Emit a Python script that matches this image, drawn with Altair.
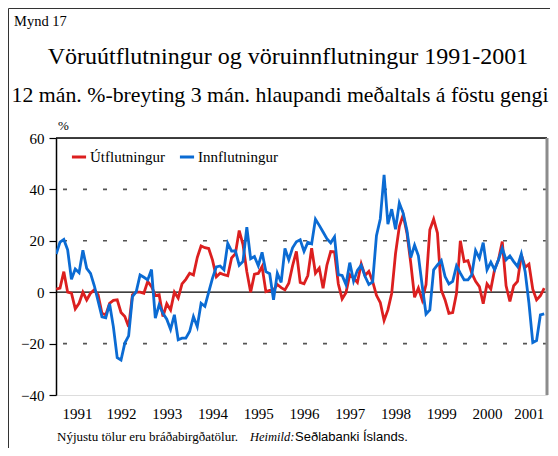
import altair as alt
import pandas as pd

# month index (1 = Feb 1991 ... 129 = Oct 2001)
months = list(range(1, 130))

utflutningur = [
    1.2, 1.6, 8.0, 0.0, -0.4, -6.5, -4.3, 0.0, -3.0, -0.4, 0.9, -1.0,
    -8.2, -8.8, -4.3, -3.2, -3.0, -7.9, -9.5, -13.4, -1.0, 0.0, 0.0, -0.4,
    4.2, 2.2, -1.3, -1.0, -9.5, -4.5, -6.9, 0.0, -2.3, 3.2, 5.0, 7.4,
    6.7, 13.5, 18.0, 17.3, 17.0, 12.5, 6.0, 7.4, 6.8, 6.4, 13.3, 15.0,
    24.0, 18.5, 8.0, 0.0, 7.0, 7.3, 10.0, 0.2, 0.7, 0.8, 3.0, 1.8,
    0.9, 3.5, 10.3, 15.9, 3.8, 3.3, 6.5, 17.1, 7.4, 9.4, 1.5, 10.5,
    15.8, 15.7, 3.2, -2.6, -0.2, 6.8, 5.5, 3.8, 11.0, 6.5, 8.1, 4.2,
    -1.2, -4.0, -11.0, -6.9, -0.4, 15.0, 25.5, 30.1, 23.0, 11.3, -2.0, 1.6,
    -3.0, 3.0, 24.3, 28.4, 23.0, 0.9, -3.0, -8.2, -7.9, -0.4, 20.0, 11.9,
    12.3, 7.4, 4.2, 2.2, -4.5, 3.2, 1.2, 8.9, 12.6, 19.7, 2.5, -3.6,
    2.5, 4.2, 14.5, 9.7, 10.9, 1.2, -3.0, -1.4, 1.6,
]

innflutningur = [
    14.8, 19.5, 20.5, 16.5, 5.0, 9.0, 7.6, 16.3, 9.3, 7.3, 2.5, -3.5,
    -9.6, -10.0, -4.5, -13.5, -25.5, -26.4, -19.8, -17.0, -1.7, 0.2, 6.7, 5.8,
    4.8, 8.8, -10.1, -4.9, -8.2, -10.5, -14.5, -8.8, -18.5, -17.9, -17.9, -15.3,
    -9.5, -13.4, -4.3, -5.5, 0.0, 5.5, 9.8, 10.2, 8.7, 19.0, 16.0, 16.1,
    10.5, 12.0, 25.3, 13.0, 13.9, 10.3, 15.5, 8.0, 7.2, -3.0, 7.4, 3.8,
    17.0, 12.6, 17.3, 19.6, 20.4, 15.9, 19.4, 18.8, 28.4, 26.0, 23.4, 20.8,
    19.2, 21.5, 6.8, 6.5, 3.0, 11.5, 4.3, 8.5, 10.5, 6.2, 3.0, 4.0,
    22.0, 28.5, 45.7, 26.5, 32.3, 24.5, 34.7, 30.8, 24.0, 13.5, 18.3, 14.2,
    2.5, -8.5, -6.9, 8.7, 10.6, 12.3, 6.1, 3.2, 4.2, 10.2, 7.4, 4.8,
    4.8, 6.7, 16.2, 13.2, 19.3, 8.7, 11.7, 8.7, 12.6, 17.1, 12.6, 14.1,
    11.9, 10.0, 14.9, 8.0, -4.3, -19.6, -18.8, -8.8, -8.4,
]

series_names = ["Útflutningur", "Innflutningur"]
series_colors = ["#dc1f1f", "#0b6bd3"]

year_label_pos = [1991.54, 1992.5, 1993.5, 1994.5, 1995.5, 1996.5,
                  1997.5, 1998.5, 1999.5, 2000.5, 2001.41]
y_ticks = [-40, -30, -20, -10, 0, 10, 20, 30, 40, 50, 60]
dashed_grid = [-20, 20, 40]

X_MIN, X_MAX = 1991.079, 2001.811
W, H = 491, 257

t = [1991 + m / 12 for m in months]
df = pd.concat([
    pd.DataFrame({"t": t, "v": utflutningur, "s": series_names[0]}),
    pd.DataFrame({"t": t, "v": innflutningur, "s": series_names[1]}),
])

xscale = alt.Scale(domain=[X_MIN, X_MAX], nice=False, zero=False)
yscale = alt.Scale(domain=[-40, 60], nice=False)

SERIF = "Liberation Serif"
SANS = "Liberation Sans"

lines = alt.Chart(df).mark_line(strokeWidth=2.8, clip=True).encode(
    x=alt.X("t:Q", scale=xscale, title=None,
            axis=alt.Axis(values=year_label_pos, labelExpr="toString(floor(datum.value))",
                          ticks=False, domain=False, grid=False,
                          labelFont=SERIF, labelFontSize=15, labelColor="black",
                          labelPadding=11, labelFlush=False, labelOverlap=False)),
    y=alt.Y("v:Q", scale=yscale, title=None,
            axis=alt.Axis(values=y_ticks,
                          labelExpr="datum.value % 20 == 0 ? datum.label : ''",
                          tickSize=7, tickColor="black", tickWidth=1.2,
                          domainColor="black", domainWidth=1.5,
                          grid=False, labelFont=SERIF, labelFontSize=15,
                          labelColor="black", labelPadding=5)),
    color=alt.Color("s:N", sort=series_names,
                    scale=alt.Scale(domain=series_names, range=series_colors),
                    legend=alt.Legend(title=None, orient="none", legendX=14, legendY=10,
                                      direction="horizontal", symbolType="stroke",
                                      symbolStrokeWidth=3, symbolSize=200,
                                      labelFont=SERIF, labelFontSize=15,
                                      labelColor="black", labelOffset=2,
                                      columnPadding=8, padding=0)),
)

grid = alt.Chart(pd.DataFrame({"g": dashed_grid})).mark_rule(
    strokeDash=[4, 16], color="#555", strokeWidth=1.6
).encode(y=alt.Y("g:Q", scale=yscale))

zero = alt.Chart(pd.DataFrame({"g": [0]})).mark_rule(
    color="black", strokeWidth=1.3
).encode(y=alt.Y("g:Q", scale=yscale))

one = pd.DataFrame({"k": [0]})

top_border = alt.Chart(one).mark_rule(color="black", strokeWidth=1.5).encode(
    x=alt.value(0), x2=alt.value(W), y=alt.value(0))
right_border = alt.Chart(one).mark_rule(color="#8c8c8c", strokeWidth=3).encode(
    x=alt.value(W), y=alt.value(0), y2=alt.value(H))

frame_top = alt.Chart(one).mark_rule(color="#333", strokeWidth=1).encode(
    x=alt.value(-47.5), x2=alt.value(W + 10), y=alt.value(-129.5))
frame_left = alt.Chart(one).mark_rule(color="#333", strokeWidth=1).encode(
    x=alt.value(-47.5), y=alt.value(-129.5), y2=alt.value(H + 60))


def txt(s, x, y, size, font=SERIF, align="left", style="normal"):
    return alt.Chart(one).mark_text(
        text=s, font=font, fontSize=size, align=align, baseline="middle",
        fontStyle=style, color="black"
    ).encode(x=alt.value(x), y=alt.value(y))


texts = [
    txt("Mynd 17", -42, -116, 14.5),
    txt("Vöruútflutningur og vöruinnflutningur 1991-2001", 232, -81, 24, align="center"),
    txt("12 mán. %-breyting 3 mán. hlaupandi meðaltals á föstu gengi", 224, -43, 21.8, align="center"),
    txt("%", 2, -12, 13),
    txt("Nýjustu tölur eru bráðabirgðatölur.", 1, 299, 13),
    txt("Heimild:", 194, 299, 12.5, style="italic"),
    txt("Seðlabanki Íslands.", 239, 299, 13, font=SANS),
]

chart = alt.layer(
    grid, zero, lines, top_border, right_border, frame_top, frame_left, *texts
).properties(
    width=W, height=H,
    autosize=alt.AutoSizeParams(type="none"),
    padding={"left": 48, "top": 130, "right": 3, "bottom": 53},
).configure_view(stroke="#b0b0b0", strokeWidth=1).configure(background="white")

chart.save("out.html", embed_options={"renderer": "svg", "actions": False})
